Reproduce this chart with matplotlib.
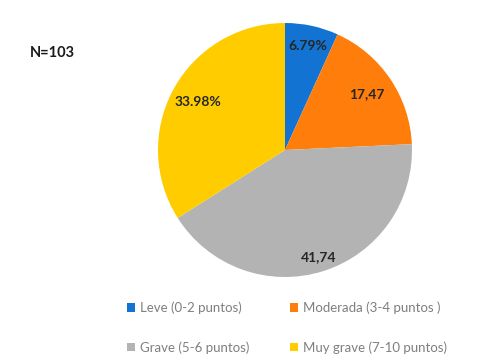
import numpy as np
import matplotlib.pyplot as plt
from matplotlib.patches import Patch

plt.rcParams['font.family'] = ['Lato', 'DejaVu Sans']

# Data
categories = ["Leve (0-2 puntos)", "Moderada (3-4 puntos )",
              "Grave (5-6 puntos)", "Muy grave (7-10 puntos)"]
values = [6.79, 17.47, 41.74, 33.98]
value_labels = ["6.79%", "17,47", "41,74", "33.98%"]
colors = ["#1273D2", "#FF7D0A", "#B3B3B3", "#FFCC00"]
label_dist = [0.84, 0.78, 0.88, 0.78]

fig = plt.figure(figsize=(4.85, 3.61), dpi=100)
ax = fig.add_axes([158 / 485, 84 / 361, 254 / 485, 254 / 361])

wedges, _ = ax.pie(values, colors=colors, startangle=90, counterclock=False,
                   radius=1.0, wedgeprops=dict(linewidth=0))
ax.set_xlim(-1, 1)
ax.set_ylim(-1, 1)
ax.set_aspect('equal')
ax.axis('off')

# value labels inside slices
for w, lab, d in zip(wedges, value_labels, label_dist):
    ang = np.deg2rad((w.theta1 + w.theta2) / 2)
    ax.text(d * np.cos(ang), d * np.sin(ang), lab, ha='center', va='center',
            fontsize=10, fontweight='bold', color='#262626')

fig.text(30 / 485, 1 - 53 / 361, "N=103", fontsize=10.5, fontweight='bold',
         color='#1a1a1a', va='center', ha='left')

handles = [Patch(facecolor=c, edgecolor='none') for c in colors]
# order so rows are: Leve, Moderada / Grave, Muy grave
order = [0, 2, 1, 3]
fig.legend([handles[i] for i in order], [categories[i] for i in order],
           ncol=2, loc='upper left', bbox_to_anchor=(120 / 485, 1 - 295 / 361),
           frameon=False, fontsize=9.5, labelcolor='#7f7f7f',
           handlelength=0.6, handleheight=0.6, handletextpad=0.4,
           labelspacing=2.05, columnspacing=3.1, borderpad=0)

fig.savefig("out.png", dpi=100)
